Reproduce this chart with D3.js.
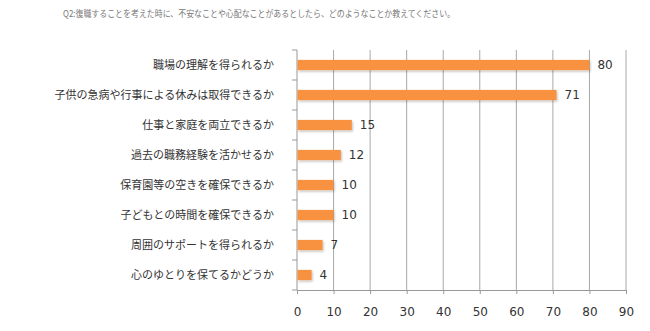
<!DOCTYPE html>
<html><head><meta charset="utf-8">
<script src="https://cdn.jsdelivr.net/npm/d3@7"></script>
<style>
html,body{margin:0;padding:0;background:#fff;}
svg{display:block;font-family:"Noto Sans CJK JP","Noto Sans",sans-serif;}
</style></head>
<body>
<svg id="chart" width="650" height="331"></svg>
<script>
const title = "Q2:復職することを考えた時に、不安なことや心配なことがあるとしたら、どのようなことか教えてください。";
const categories = [
  "職場の理解を得られるか",
  "子供の急病や行事による休みは取得できるか",
  "仕事と家庭を両立できるか",
  "過去の職務経験を活かせるか",
  "保育園等の空きを確保できるか",
  "子どもとの時間を確保できるか",
  "周囲のサポートを得られるか",
  "心のゆとりを保てるかどうか"
];
const values = [80, 71, 15, 12, 10, 10, 7, 4];
const xTicks = [0, 10, 20, 30, 40, 50, 60, 70, 80, 90];

const svg = d3.select("#chart");
const plot = {left: 297, right: 626, top: 50, bottom: 290};

const x = d3.scaleLinear().domain([0, 90]).range([plot.left, plot.right]);
const y = d3.scaleBand().domain(categories).range([plot.top, plot.bottom]).paddingInner(0.66).paddingOuter(0.33);

// title
svg.append("text")
  .attr("x", 259).attr("y", 17)
  .attr("text-anchor", "middle")
  .attr("font-size", 8.6)
  .attr("textLength", 392)
  .attr("lengthAdjust", "spacingAndGlyphs")
  .attr("fill", "#777")
  .text(title);

// shadow filter for bars
const defs = svg.append("defs");
const f = defs.append("filter").attr("id", "sh").attr("x", "-10%").attr("y", "-30%").attr("width", "130%").attr("height", "180%");
f.append("feDropShadow").attr("dx", 1).attr("dy", 1.5).attr("stdDeviation", 0.8).attr("flood-color", "#000").attr("flood-opacity", 0.25);

// vertical gridlines
svg.append("g").selectAll("line")
  .data(xTicks.slice(1))
  .join("line")
  .attr("x1", d => x(d)).attr("x2", d => x(d))
  .attr("y1", plot.top).attr("y2", plot.bottom)
  .attr("stroke", "#a8a8a8").attr("stroke-width", 1);

// bottom axis
const xAxis = svg.append("g")
  .attr("transform", `translate(0,${plot.bottom})`)
  .call(d3.axisBottom(x).tickValues(xTicks).tickSize(4).tickPadding(13).tickSizeOuter(0));
xAxis.select(".domain").attr("stroke", "#999");
xAxis.selectAll(".tick line").attr("stroke", "#999");
xAxis.selectAll(".tick text").attr("font-size", 12).attr("fill", "#333").attr("font-family", "Verdana, 'DejaVu Sans', sans-serif");

// left axis line with category boundary ticks
const bounds = d3.range(categories.length + 1).map(i => plot.top + i * (plot.bottom - plot.top) / categories.length);
svg.append("line")
  .attr("x1", plot.left).attr("x2", plot.left)
  .attr("y1", plot.top).attr("y2", plot.bottom)
  .attr("stroke", "#999");
svg.append("g").selectAll("line")
  .data(bounds)
  .join("line")
  .attr("x1", plot.left - 5).attr("x2", plot.left)
  .attr("y1", d => d).attr("y2", d => d)
  .attr("stroke", "#999");

// category labels
svg.append("g").selectAll("text")
  .data(categories)
  .join("text")
  .attr("x", 274)
  .attr("y", d => y(d) + y.bandwidth() / 2)
  .attr("dy", "0.35em")
  .attr("text-anchor", "end")
  .attr("font-size", 11)
  .attr("fill", "#333")
  .text(d => d);

// bars
svg.append("g").selectAll("rect")
  .data(values)
  .join("rect")
  .attr("x", x(0) + 0.5)
  .attr("y", (d, i) => y(categories[i]))
  .attr("width", d => x(d) - x(0) - 0.5)
  .attr("height", y.bandwidth())
  .attr("fill", "#F8913F")
  .attr("filter", "url(#sh)");

// value labels
svg.append("g").selectAll("text")
  .data(values)
  .join("text")
  .attr("x", d => x(d) + 8)
  .attr("y", (d, i) => y(categories[i]) + y.bandwidth() / 2)
  .attr("dy", "0.35em")
  .attr("font-size", 12)
  .attr("fill", "#333")
  .attr("font-family", "Verdana, 'DejaVu Sans', sans-serif")
  .text(d => d);
</script>
</body></html>
